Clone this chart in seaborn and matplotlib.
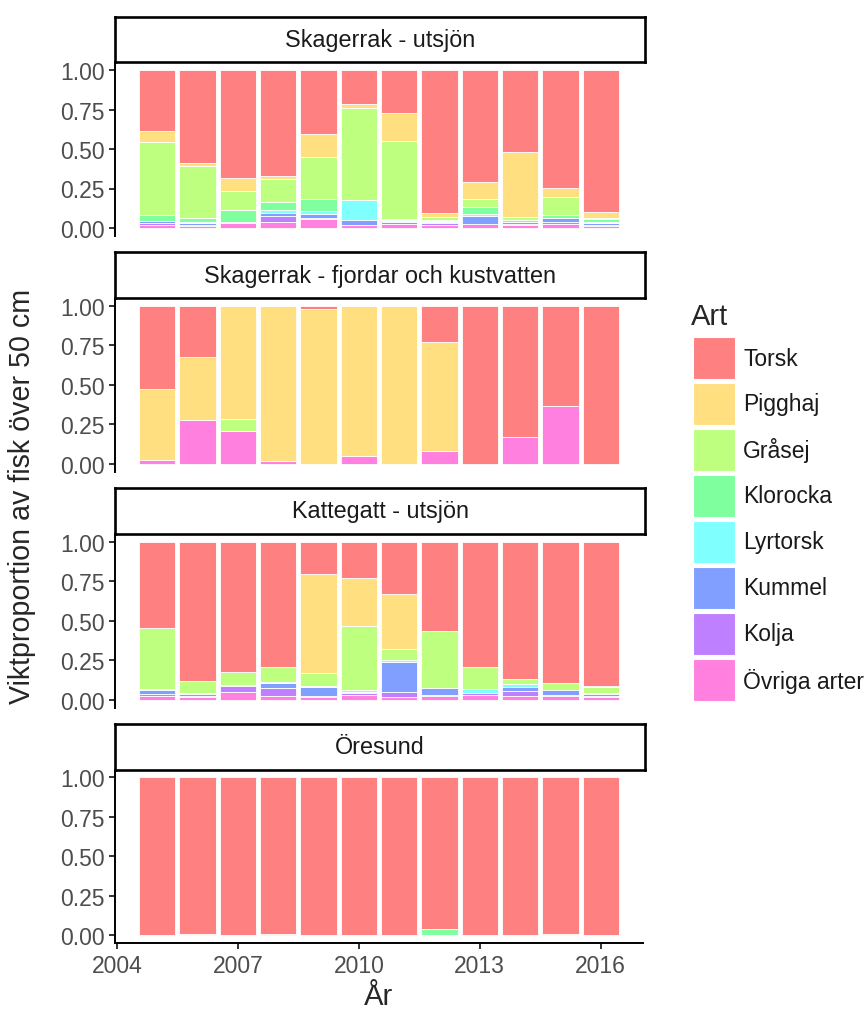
"""
Viktproportion av fisk över 50 cm per art, år och område (stacked bars, one facet per area).
"""

import pandas as pd
import matplotlib.pyplot as plt
from matplotlib.patches import Rectangle
import seaborn as sns

YEARS = [2005, 2006, 2007, 2008, 2009, 2010, 2011, 2012, 2013, 2014, 2015, 2016]
SPECIES = ["Torsk", "Pigghaj", "Gråsej", "Klorocka", "Lyrtorsk", "Kummel", "Kolja", "Övriga arter"]
COLORS = ["#FF8080", "#FFDF80", "#BFFF80", "#80FF9F", "#80FFFF", "#809FFF", "#BF80FF", "#FF80DF"]
REGIONS = ["Skagerrak - utsjön", "Skagerrak - fjordar och kustvatten", "Kattegatt - utsjön", "Öresund"]

# rows follow SPECIES, columns follow YEARS
skagerrak_utsjon = [
    [.386, .591, .686, .670, .405, .216, .269, .903, .711, .519, .747, .897],
    [.068, .019, .080, .017, .148, .025, .179, .025, .108, .409, .059, .042],
    [.462, .327, .118, .146, .264, .584, .494, .021, .049, .023, .110, .004],
    [.038, .027, .080, .055, .078, .000, .006, .008, .044, .013, .021, .017],
    [.004, .006, .000, .015, .015, .124, .006, .006, .013, .000, .000, .006],
    [.008, .009, .000, .019, .027, .030, .006, .008, .048, .010, .027, .015],
    [.015, .006, .004, .040, .004, .000, .015, .008, .000, .005, .013, .009],
    [.019, .015, .032, .038, .059, .021, .025, .021, .027, .021, .023, .010],
]
skagerrak_fjordar = [
    [.527, .323, .000, .000, .019, .000, .000, .232, 1.00, .829, .633, 1.00],
    [.452, .399, .717, .983, .981, .951, 1.00, .688, .000, .000, .000, .000],
    [.000, .000, .076, .000, .000, .000, .000, .000, .000, .000, .000, .000],
    [.000, .000, .000, .000, .000, .000, .000, .000, .000, .000, .000, .000],
    [.000, .000, .000, .000, .000, .000, .000, .000, .000, .000, .000, .000],
    [.000, .000, .000, .000, .000, .000, .000, .000, .000, .000, .000, .000],
    [.000, .000, .000, .000, .000, .000, .000, .000, .000, .000, .000, .000],
    [.021, .278, .207, .017, .000, .049, .000, .080, .000, .171, .367, .000],
]
kattegatt_utsjon = [
    [.549, .882, .827, .791, .203, .232, .333, .563, .794, .869, .897, .913],
    [.000, .000, .000, .000, .627, .300, .346, .000, .000, .000, .000, .008],
    [.384, .074, .078, .097, .082, .409, .068, .363, .137, .034, .044, .038],
    [.000, .000, .000, .000, .000, .000, .000, .000, .000, .000, .000, .000],
    [.004, .006, .000, .004, .006, .013, .013, .000, .030, .015, .000, .008],
    [.030, .017, .006, .036, .061, .004, .194, .044, .000, .027, .030, .010],
    [.013, .004, .040, .047, .006, .013, .031, .005, .012, .030, .004, .008],
    [.020, .017, .049, .025, .015, .029, .015, .025, .027, .025, .025, .015],
]
oresund = [
    [.996, .990, 1.00, .993, .998, .995, 1.00, .958, 1.00, 1.00, .988, 1.00],
    [.000, .000, .000, .000, .000, .000, .000, .000, .000, .000, .000, .000],
    [.000, .000, .000, .000, .000, .000, .000, .000, .000, .000, .000, .000],
    [.000, .000, .000, .000, .000, .000, .000, .042, .000, .000, .000, .000],
    [.000, .000, .000, .000, .000, .000, .000, .000, .000, .000, .000, .000],
    [.004, .000, .000, .007, .000, .000, .000, .000, .000, .000, .000, .000],
    [.000, .004, .000, .000, .000, .000, .000, .000, .000, .000, .000, .000],
    [.000, .006, .000, .000, .002, .005, .000, .000, .000, .000, .012, .000],
]

sns.set_style("ticks")
plt.rcParams.update({
    "font.family": ["Liberation Sans", "DejaVu Sans"],
    "axes.edgecolor": "black",
    "axes.linewidth": 1.4,
    "xtick.color": "#333333",
    "ytick.color": "#333333",
    "xtick.labelcolor": "#4D4D4D",
    "ytick.labelcolor": "#4D4D4D",
    "xtick.major.width": 1.4,
    "ytick.major.width": 1.4,
    "xtick.major.size": 4,
    "ytick.major.size": 4,
})

rows = []
for region, table in zip(REGIONS, [skagerrak_utsjon, skagerrak_fjordar, kattegatt_utsjon, oresund]):
    for art, vals in zip(SPECIES, table):
        for year, v in zip(YEARS, vals):
            rows.append({"omrade": region, "art": art, "ar": year, "andel": v})
df = pd.DataFrame(rows)

W, H = 866, 1012
fig = plt.figure(figsize=(W / 100, H / 100), dpi=100)

left_px, right_px = 115, 643
axes_h, strip_h, step = 173.8, 45.5, 235.8

for k, region in enumerate(REGIONS):
    top_px = 63.1 + step * k
    ax = fig.add_axes([left_px / W, 1 - (top_px + axes_h) / H,
                       (right_px - left_px) / W, axes_h / H])
    sns.histplot(
        data=df[df["omrade"] == region], x="ar", weights="andel",
        hue="art", hue_order=SPECIES, palette=COLORS,
        multiple="stack", discrete=True, shrink=0.9,
        edgecolor="white", linewidth=0.6, alpha=1, legend=False, ax=ax,
    )
    ax.set_xlim(2003.95, 2017.05)
    ax.set_ylim(-0.05, 1.05)
    ax.set_yticks([0, 0.25, 0.5, 0.75, 1.0])
    ax.set_yticklabels(["0.00", "0.25", "0.50", "0.75", "1.00"], fontsize=16.5)
    ax.set_xlabel("")
    ax.set_ylabel("")
    ax.spines[["top", "right"]].set_visible(False)
    if k < len(REGIONS) - 1:
        ax.spines["bottom"].set_visible(False)
        ax.set_xticks([])
    else:
        ax.set_xticks([2004, 2007, 2010, 2013, 2016])
        ax.set_xticklabels(["2004", "2007", "2010", "2013", "2016"], fontsize=16.5)

    # facet strip
    sax = fig.add_axes([left_px / W, 1 - top_px / H, (right_px - left_px + 2) / W, strip_h / H])
    sax.set_xticks([])
    sax.set_yticks([])
    sax.set_facecolor("white")
    for sp in sax.spines.values():
        sp.set_visible(True)
        sp.set_linewidth(1.9)
        sp.set_color("black")
    sax.text(0.5, 0.5, region, ha="center", va="center", fontsize=16.8,
             color="#1A1A1A", transform=sax.transAxes)

fig.text(22 / W, 1 - 496 / H, "Viktproportion av fisk över 50 cm", rotation=90,
         ha="center", va="center", fontsize=20.6)
fig.text(379 / W, 1 - 997 / H, "År", ha="center", va="center", fontsize=21)

# legend, laid out like the ggplot guide
fig.text(691 / W, 1 - 317 / H, "Art", ha="left", va="center", fontsize=21)
key, gap = 42, 46
for i, (name, c) in enumerate(zip(SPECIES, COLORS)):
    y_top = 338 + gap * i
    fig.add_artist(Rectangle((693 / W, 1 - (y_top + key) / H), key / W, key / H,
                             facecolor=c, edgecolor="white", linewidth=0.8,
                             transform=fig.transFigure))
    fig.text(743 / W, 1 - (y_top + key / 2) / H, name, ha="left", va="center",
             fontsize=16.5, color="#1A1A1A")

fig.savefig("out.png", dpi=100)
